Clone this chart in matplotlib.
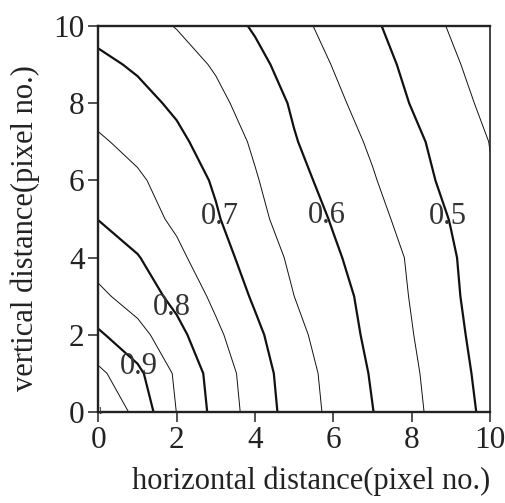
import matplotlib
matplotlib.use("Agg")
import matplotlib.pyplot as plt
import numpy as np

plt.rcParams['font.family'] = ['Liberation Serif', 'DejaVu Serif']

# Sample positions (pixel numbers) of the measured grid
x_pixels = [0, 1, 2, 3, 4, 5, 6, 7, 8, 9, 10]
y_pixels = [0, 1, 2, 3, 4, 5, 6, 7, 8, 9, 10]

# Normalised intensity on the grid; one row per vertical pixel (y = 0 .. 10)
row_y0 = [1.000, 0.935, 0.849, 0.786, 0.728, 0.679, 0.638, 0.601, 0.562, 0.524, 0.487]
row_y1 = [0.961, 0.911, 0.842, 0.780, 0.723, 0.675, 0.634, 0.596, 0.558, 0.520, 0.482]
row_y2 = [0.907, 0.867, 0.815, 0.760, 0.711, 0.664, 0.625, 0.589, 0.552, 0.514, 0.477]
row_y3 = [0.861, 0.827, 0.786, 0.739, 0.693, 0.650, 0.618, 0.584, 0.547, 0.509, 0.472]
row_y4 = [0.828, 0.803, 0.761, 0.720, 0.679, 0.640, 0.607, 0.576, 0.544, 0.506, 0.468]
row_y5 = [0.799, 0.771, 0.741, 0.705, 0.663, 0.628, 0.596, 0.565, 0.533, 0.498, 0.464]
row_y6 = [0.778, 0.757, 0.728, 0.694, 0.654, 0.616, 0.583, 0.554, 0.520, 0.487, 0.453]
row_y7 = [0.756, 0.736, 0.710, 0.679, 0.643, 0.603, 0.573, 0.543, 0.511, 0.480, 0.449]
row_y8 = [0.733, 0.714, 0.692, 0.662, 0.629, 0.594, 0.561, 0.529, 0.498, 0.468, 0.438]
row_y9 = [0.710, 0.694, 0.670, 0.645, 0.613, 0.580, 0.548, 0.518, 0.489, 0.458, 0.427]
row_y10 = [0.686, 0.667, 0.648, 0.622, 0.595, 0.564, 0.535, 0.507, 0.477, 0.446, 0.414]

minor_levels = [0.45, 0.55, 0.65, 0.75, 0.85, 0.95]
major_levels = [0.5, 0.6, 0.7, 0.8, 0.9]
peak_level = 1.0
label_spots = [(1.01, 1.17), (1.78, 2.64), (3.06, 5.05), (5.72, 5.05), (8.87, 5.05)]

ticks = [0, 2, 4, 6, 8, 10]
tick_labels = ['0', '2', '4', '6', '8', '10']

X, Y = np.meshgrid(x_pixels, y_pixels)
Z = np.array([row_y0, row_y1, row_y2, row_y3, row_y4, row_y5,
              row_y6, row_y7, row_y8, row_y9, row_y10])

fig = plt.figure(figsize=(5.06, 5.03), dpi=100)
ax = fig.add_axes([0.1945, 0.1809, 0.7739, 0.7674])

ink = '#111111'
ax.contour(X, Y, Z, levels=minor_levels, colors=ink, linewidths=0.7)
cs = ax.contour(X, Y, Z, levels=major_levels, colors=ink, linewidths=1.6)
labels = ax.clabel(cs, manual=label_spots, inline=False, fmt='%.1f',
                   fontsize=22, colors='#333333')
for t in labels:
    t.set_rotation(0)
ax.text(0.02, 0.02, '%g' % peak_level, fontsize=7, color='#333333',
        ha='center', va='center')

ax.set_xlim(0, 10)
ax.set_ylim(0, 10)
ax.set_xticks(ticks)
ax.set_xticklabels(tick_labels)
ax.set_yticks(ticks)
ax.set_yticklabels(tick_labels)
ax.tick_params(direction='out', length=7, width=1.1, labelsize=22.5,
               colors='#222222', pad=3)
for side in ['left', 'bottom', 'top']:
    ax.spines[side].set_linewidth(1.7)
ax.spines['right'].set_linewidth(1.2)
for s in ax.spines.values():
    s.set_color('#222222')

ax.set_xlabel('horizontal distance(pixel no.)', fontsize=22, color='#222222')
ax.set_ylabel('vertical distance(pixel no.)', fontsize=22, color='#222222')
ax.xaxis.set_label_coords(0.543, -0.142)
ax.yaxis.set_label_coords(-0.15, 0.477)

fig.savefig('out.png', dpi=100)
